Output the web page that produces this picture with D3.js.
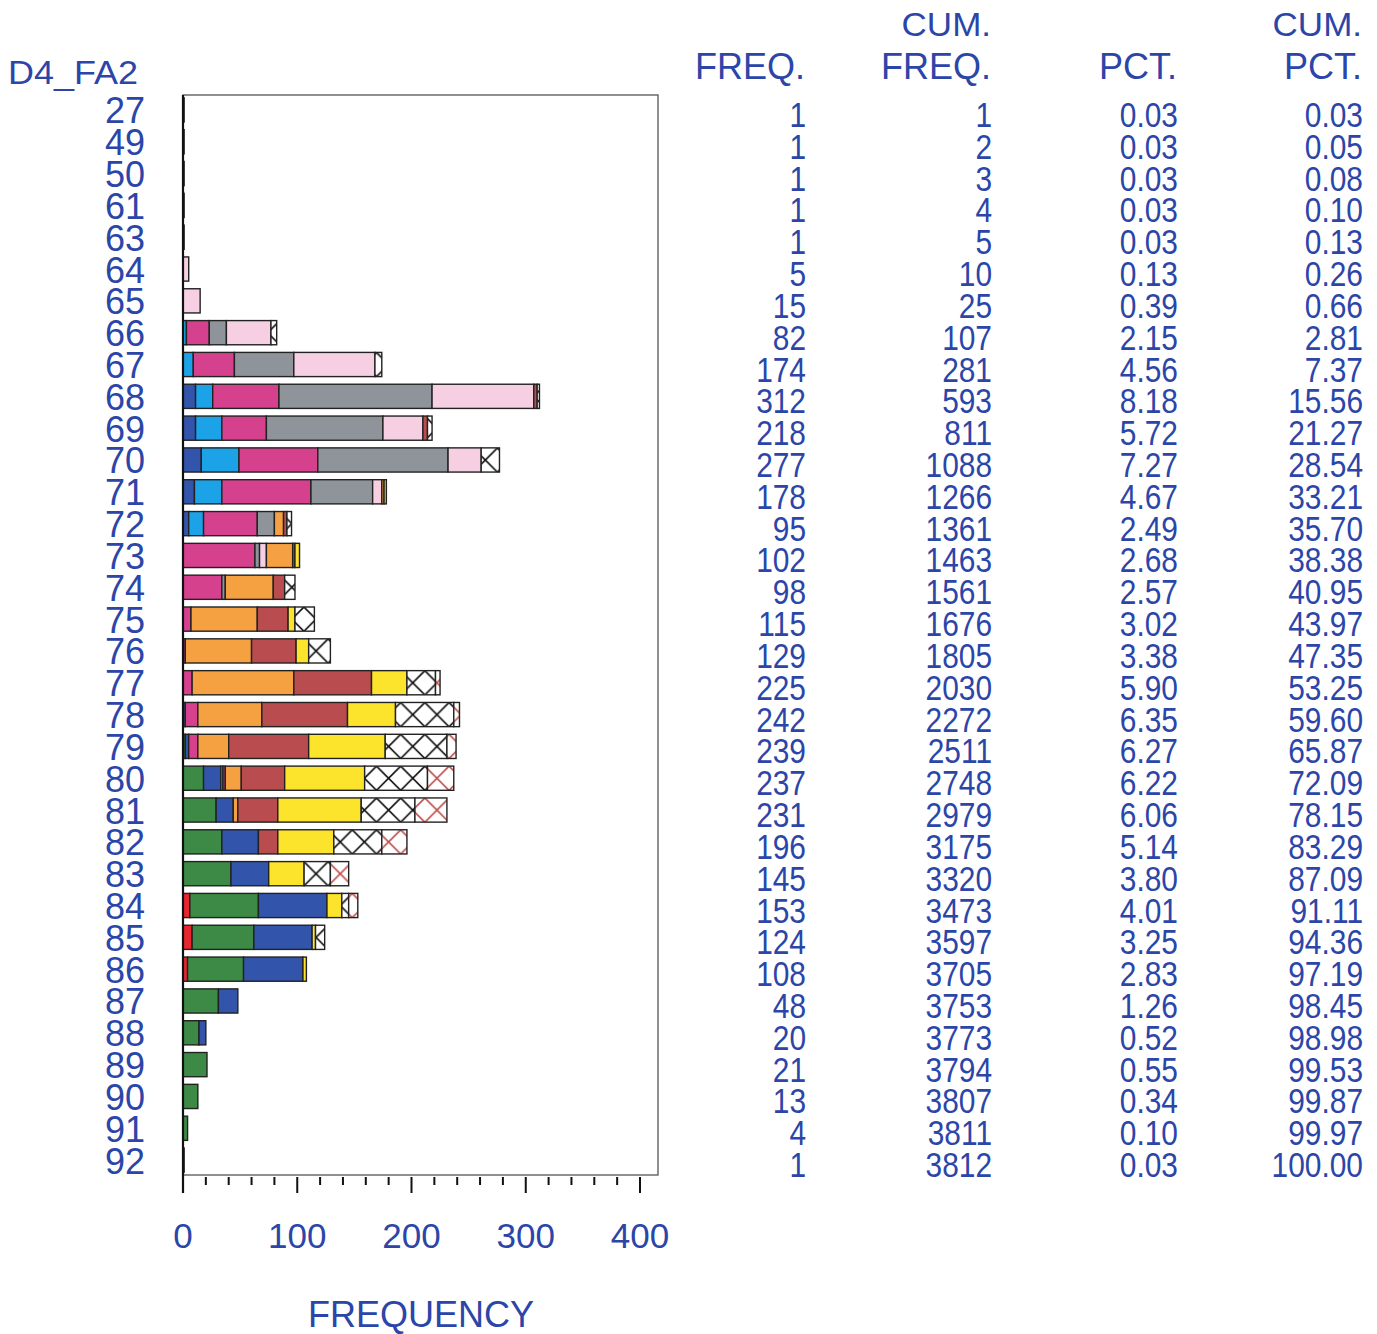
<!DOCTYPE html>
<html>
<head>
<meta charset="utf-8">
<script src="https://cdn.jsdelivr.net/npm/d3@7"></script>
<style>
  body { margin: 0; background: #fff; }
  text { font-family: "Liberation Sans", Arial, sans-serif; fill: #2b45a8; }
</style>
</head>
<body>
<div id="chart"></div>
<script>
// row categories (D4_FA2 values)
const levels = ["27","49","50","61","63","64","65","66","67","68","69","70","71","72","73","74","75","76","77","78","79","80","81","82","83","84","85","86","87","88","89","90","91","92"];

// table columns
const freq = [1,1,1,1,1,5,15,82,174,312,218,277,178,95,102,98,115,129,225,242,239,237,231,196,145,153,124,108,48,20,21,13,4,1];
const cumFreq = [1,2,3,4,5,10,25,107,281,593,811,1088,1266,1361,1463,1561,1676,1805,2030,2272,2511,2748,2979,3175,3320,3473,3597,3705,3753,3773,3794,3807,3811,3812];
const pct = [0.03,0.03,0.03,0.03,0.03,0.13,0.39,2.15,4.56,8.18,5.72,7.27,4.67,2.49,2.68,2.57,3.02,3.38,5.90,6.35,6.27,6.22,6.06,5.14,3.80,4.01,3.25,2.83,1.26,0.52,0.55,0.34,0.10,0.03];
const cumPct = [0.03,0.05,0.08,0.10,0.13,0.26,0.66,2.81,7.37,15.56,21.27,28.54,33.21,35.70,38.38,40.95,43.97,47.35,53.25,59.60,65.87,72.09,78.15,83.29,87.09,91.11,94.36,97.19,98.45,98.98,99.53,99.87,99.97,100.00];

// subgroup counts per row
const red     = [0,0,0,0,0, 0,0,0,0,0, 0,0,0,0,0, 0,0,0,0,0, 0,0,0,0,0, 6,8,4,0,0, 0,0,0,1];
const green   = [0,0,0,0,0, 0,0,0,0,0, 0,0,0,0,0, 0,0,0,0,0, 2,18,29,34,42, 60,54,49,31,14, 21,13,4,0];
const blue    = [0,0,0,0,0, 0,0,0,0,11, 11,16,10,5,0, 0,0,0,0,2, 3,15,15,32,33, 60,51,52,17,6, 0,0,0,0];
const cyan    = [0,0,0,0,0, 0,0,3,9,15, 23,33,24,13,0, 0,0,0,0,0, 0,2,0,0,0, 0,0,0,0,0, 0,0,0,0];
const magenta = [0,0,0,0,0, 0,0,20,36,58, 39,69,78,47,63, 34,7,2,8,11, 8,2,0,0,0, 0,0,0,0,0, 0,0,0,0];
const grey    = [0,0,0,0,0, 0,0,15,52,134, 102,114,54,15,4, 3,0,0,0,0, 0,0,0,0,0, 0,0,0,0,0, 0,0,0,0];
const pink    = [1,1,1,1,1, 5,15,39,71,89, 35,29,8,0,6, 0,0,0,0,0, 0,0,0,0,0, 0,0,0,0,0, 0,0,0,0];
const orange  = [0,0,0,0,0, 0,0,0,0,0, 0,0,2,8,23, 42,58,58,89,56, 27,14,4,0,0, 0,0,0,0,0, 0,0,0,0];
const brown   = [0,0,0,0,0, 0,0,0,0,3, 4,0,0,3,2, 10,27,39,68,75, 70,38,35,17,0, 0,0,0,0,0, 0,0,0,0];
const yellow  = [0,0,0,0,0, 0,0,0,0,0, 0,0,2,0,4, 0,6,11,31,42, 67,70,73,49,31, 13,3,3,0,0, 0,0,0,0];
const hatchK  = [0,0,0,0,0, 0,0,5,6,2, 4,16,0,4,0, 9,17,19,25,51, 54,55,47,42,23, 6,8,0,0,0, 0,0,0,0];
const hatchR  = [0,0,0,0,0, 0,0,0,0,0, 0,0,0,0,0, 0,0,0,4,5, 8,23,28,22,16, 8,0,0,0,0, 0,0,0,0];

const xTicks = [0, 100, 200, 300, 400];

const groups = {red, green, blue, cyan, magenta, grey, pink, orange, brown, yellow, hatchK, hatchR};
const keys = Object.keys(groups);
const fills = {
  red: "#e7262f", green: "#3c8a45", blue: "#3354ab", cyan: "#1ca2e6",
  magenta: "#d6418e", grey: "#8f949b", pink: "#f6cfe3", orange: "#f6a141",
  brown: "#b94c4f", yellow: "#fce32c", hatchK: "url(#hatchK)", hatchR: "url(#hatchR)"
};

const rows = levels.map((l, i) => {
  const r = {level: l};
  keys.forEach(k => r[k] = groups[k][i]);
  return r;
});

const W = 1377, H = 1334;
const svg = d3.select("#chart").append("svg")
  .attr("width", W).attr("height", H);

const x = d3.scaleLinear().domain([0, 400]).range([183, 640]);
const y = d3.scaleBand().domain(levels).range([94, 1176])
  .paddingInner(0.24).paddingOuter(0.12);

const frame = {left: 183, right: 658, top: 95, bottom: 1175};

// cross hatch patterns, one X per bar height, aligned to the bands
const defs = svg.append("defs");
[["hatchK", "#111"], ["hatchR", "#c0504d"]].forEach(([id, col]) => {
  const bw = y.bandwidth();
  const p = defs.append("pattern")
    .attr("id", id)
    .attr("patternUnits", "userSpaceOnUse")
    .attr("width", bw).attr("height", y.step())
    .attr("patternTransform", `translate(${x(0)},${y(levels[0])})`);
  p.append("rect").attr("width", bw).attr("height", y.step()).attr("fill", "#fff");
  p.append("path")
    .attr("d", `M0,0L${bw},${bw}M0,${bw}L${bw},0`)
    .attr("stroke", col).attr("stroke-width", 1.6).attr("fill", "none");
});

// frame
svg.append("rect")
  .attr("x", frame.left).attr("y", frame.top)
  .attr("width", frame.right - frame.left).attr("height", frame.bottom - frame.top)
  .attr("fill", "none").attr("stroke", "#555").attr("stroke-width", 1.3);

// stacked bars
const stack = d3.stack().keys(keys)(rows);
svg.append("g").selectAll("g")
  .data(stack)
  .join("g")
    .attr("fill", d => fills[d.key])
  .selectAll("rect")
  .data(d => d.filter(s => s[1] - s[0] > 0))
  .join("rect")
    .attr("x", d => x(d[0]))
    .attr("y", d => y(d.data.level))
    .attr("width", d => x(d[1]) - x(d[0]))
    .attr("height", y.bandwidth())
    .attr("stroke", "#222")
    .attr("stroke-width", 1.4);

// left axis line
svg.append("line")
  .attr("x1", frame.left).attr("x2", frame.left)
  .attr("y1", frame.top).attr("y2", 1193)
  .attr("stroke", "#111").attr("stroke-width", 2.2);

// x axis ticks: major every 100, minor every 20
const tickG = svg.append("g");
tickG.selectAll("line")
  .data(d3.range(0, 401, 20))
  .join("line")
    .attr("x1", d => x(d)).attr("x2", d => x(d))
    .attr("y1", 1177)
    .attr("y2", d => d % 100 === 0 ? 1193 : 1185)
    .attr("stroke", "#111").attr("stroke-width", 2);

svg.append("g").selectAll("text")
  .data(xTicks)
  .join("text")
    .attr("x", d => x(d)).attr("y", 1248)
    .attr("text-anchor", "middle")
    .attr("font-size", 35)
    .text(d => d);

svg.append("text")
  .attr("x", 421).attr("y", 1327)
  .attr("text-anchor", "middle")
  .attr("font-size", 36)
  .text("FREQUENCY");

// row labels
const cy = l => y(l) + y.bandwidth() / 2;
svg.append("g").selectAll("text")
  .data(levels)
  .join("text")
    .attr("x", 145).attr("y", d => cy(d) + 13.5)
    .attr("text-anchor", "end")
    .attr("font-size", 36)
    .text(d => d);

svg.append("text")
  .attr("transform", "translate(8,84) scale(1,0.9)")
  .attr("font-size", 36)
  .text("D4_FA2");

// table columns
const cols = [
  {right: 806, vals: freq, fmt: d => d, head: ["", "FREQ."]},
  {right: 992, vals: cumFreq, fmt: d => d, head: ["CUM.", "FREQ."]},
  {right: 1178, vals: pct, fmt: d => d.toFixed(2), head: ["", "PCT."]},
  {right: 1363, vals: cumPct, fmt: d => d.toFixed(2), head: ["CUM.", "PCT."]}
];

cols.forEach(c => {
  svg.append("g").selectAll("text")
    .data(c.vals)
    .join("text")
      .attr("transform", (d, i) => `translate(${c.right},${cy(levels[i]) + 17}) scale(0.83,1)`)
      .attr("text-anchor", "end")
      .attr("font-size", 36)
      .text(c.fmt);
  if (c.head[0]) {
    svg.append("text")
      .attr("transform", `translate(${c.right - 1},36) scale(1,0.95)`)
      .attr("text-anchor", "end")
      .attr("font-size", 35)
      .text(c.head[0]);
  }
  svg.append("text")
    .attr("transform", `translate(${c.right - 1},79)`)
    .attr("text-anchor", "end")
    .attr("font-size", 36)
    .text(c.head[1]);
});
</script>
</body>
</html>
